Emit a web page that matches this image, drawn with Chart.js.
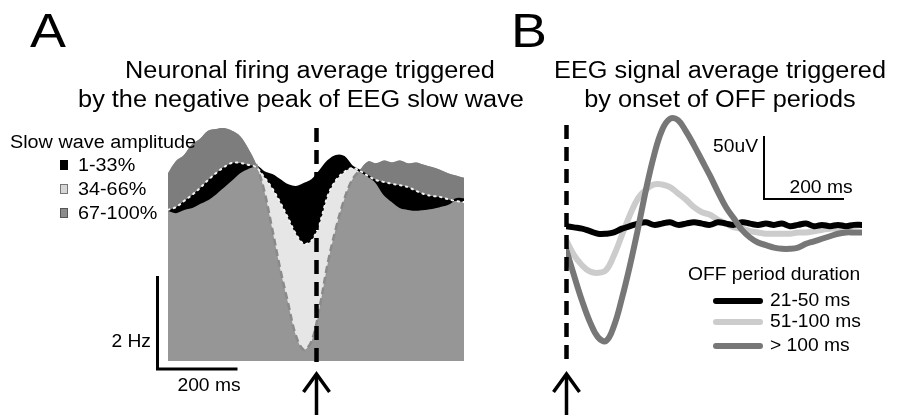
<!DOCTYPE html>
<html><head><meta charset="utf-8">
<script src="https://cdn.jsdelivr.net/npm/chart.js@4.4.1/dist/chart.umd.min.js"></script>
<style>
html,body{margin:0;padding:0;background:#fff;width:913px;height:415px;overflow:hidden;}
#wrap{position:relative;width:913px;height:415px;}
canvas{position:absolute;left:0;top:0;}
.t{position:absolute;font-family:"Liberation Sans",Arial,Helvetica,sans-serif;color:#000;white-space:nowrap;line-height:1;}
.sw{position:absolute;width:8px;height:10px;box-sizing:border-box;}
</style></head><body>
<div id="wrap">
<canvas id="cA" width="913" height="415"></canvas>
<canvas id="cB" width="913" height="415"></canvas>
</div>
<script>
// ---------- Panel A data: firing rate (Hz) vs time (ms) ----------
const timeA = [-370,-350,-330,-310,-290,-270,-250,-230,-210,-190,-170,-150,-130,-110,-90,-70,-50,-30,-10,10,30,50,70,90,110,130,150,170,190,210,230,250,270,290,310,330,350,370];
const amp67to100 = [4.04,4.30,4.43,4.66,4.78,4.95,4.99,5.01,4.95,4.84,4.58,4.24,3.68,2.86,2.00,1.25,0.54,0.24,0.45,1.20,2.13,2.86,3.46,3.89,4.11,4.29,4.25,4.31,4.27,4.31,4.25,4.27,4.22,4.17,4.11,4.04,3.99,3.94];
const amp34to66 = [3.25,3.31,3.44,3.57,3.72,3.89,4.04,4.17,4.26,4.26,4.22,4.17,3.96,3.72,3.42,3.08,2.73,2.52,2.60,2.99,3.57,3.89,4.06,4.15,4.09,3.98,3.89,3.85,3.81,3.78,3.74,3.66,3.59,3.55,3.53,3.48,3.44,3.42];
const amp1to33 = [3.25,3.20,3.27,3.31,3.40,3.48,3.61,3.76,3.91,4.06,4.15,4.19,4.06,4.00,3.89,3.78,3.74,3.81,3.89,4.09,4.30,4.41,4.39,4.19,4.09,3.98,3.85,3.59,3.44,3.31,3.27,3.25,3.27,3.29,3.33,3.38,3.48,3.48];
const legendA = ["1-33%","34-66%","67-100%"];

// ---------- Panel B data: EEG (uV) vs time from OFF onset (ms) ----------
const timeB = [0,20,40,60,80,100,120,140,160,180,200,220,240,260,280,300,320,340,360,380,400,420,440,460,480,500,520,540,560,580,600,620,640,660,680,700,720,740];
const off21to50 = [0,-1,-2,-4,-6,-6,-5,-2,0,2,3,1,2,3,1,2,3,2,1,3,2,1,3,2,1,2,1,2,0,1,2,0,1,0,1,0,1,1];
const off51to100 = [-11,-23,-31,-36,-37,-35,-23,-7,9,22,29,33,33,31,26,21,15,11,9,5,2,-1,-2,-4,-5,-6,-6,-6,-6,-5,-5,-4,-3,-2,-2,-1,0,1];
const offOver100 = [-18,-39,-59,-76,-88,-91,-79,-57,-31,-2,29,56,76,85,84,75,64,52,40,27,15,6,-3,-9,-13,-15,-17,-18,-18,-17,-14,-12,-10,-8,-6,-5,-5,-5];
const legendB = ["21-50 ms","51-100 ms","> 100 ms"];

const pts = (xs, ys) => xs.map((x,i)=>({x, y: ys[i]}));
const wrap = document.getElementById('wrap');
function txt(s,x,y,size,align){
  const d=document.createElement('div'); d.className='t'; d.textContent=s;
  d.style.fontSize=size+'px'; d.style.left=x+'px'; d.style.top=y+'px';
  const tx = align==='center'?'-50%':(align==='right'?'-100%':'0');
  d.style.transformOrigin = align==='center'?'50% 50%':(align==='right'?'100% 50%':'0 50%');
  d.style.transform='translate('+tx+',-50%) scaleX(1.1)';
  wrap.appendChild(d);
}

const DARK='#7d7d7d', MID='#969696', LIGHT='#e6e6e6';

const annA = {
  id:'annA',
  afterDraw(chart){
    const {ctx, scales:{x,y}} = chart;
    const x0 = Math.round(x.getPixelForValue(0))+0.5;
    ctx.save();
    ctx.strokeStyle='#000';
    ctx.lineWidth=4.5; ctx.setLineDash([14,8]);
    ctx.beginPath(); ctx.moveTo(x0,128); ctx.lineTo(x0,366); ctx.stroke();
    ctx.setLineDash([]);
    ctx.lineWidth=3.5;
    ctx.beginPath(); ctx.moveTo(x0,415); ctx.lineTo(x0,375); ctx.stroke();
    ctx.beginPath(); ctx.moveTo(x0-13,392); ctx.lineTo(x0,374); ctx.lineTo(x0+13,392); ctx.stroke();
    const w200 = x.getPixelForValue(200)-x.getPixelForValue(0);
    const h2 = y.getPixelForValue(0)-y.getPixelForValue(2);
    ctx.lineWidth=3; ctx.lineCap='butt';
    ctx.beginPath(); ctx.moveTo(157.5,369-h2); ctx.lineTo(157.5,369); ctx.lineTo(157.5+w200,369); ctx.stroke();
    ctx.restore();
  }
};

new Chart(document.getElementById('cA'), {
  type:'line',
  data:{datasets:[
    {data:pts(timeA,amp67to100), fill:'origin', backgroundColor:MID, borderWidth:0, pointRadius:0, tension:0.35, order:10},
    {data:pts(timeA,amp1to33), fill:'origin', backgroundColor:MID, borderWidth:0, pointRadius:0, tension:0.35, order:9},
    {data:pts(timeA,amp67to100), fill:{target:6, above:DARK, below:LIGHT}, borderWidth:0, pointRadius:0, tension:0.35, order:8},
    {data:pts(timeA,amp34to66), fill:{target:4, above:'#000', below:'#000'}, borderWidth:0, pointRadius:0, tension:0.35, order:7},
    {label:legendA[0], data:pts(timeA,amp1to33), fill:false, borderColor:'#000', borderWidth:2, pointRadius:0, tension:0.35, order:3},
    {label:legendA[2], data:pts(timeA,amp67to100), fill:false, borderColor:'#8a8a8a', borderWidth:2.5, borderDash:[7,4], pointRadius:0, tension:0.35, order:2,
      segment:{borderColor: c => (amp67to100[c.p0DataIndex] < amp34to66[c.p0DataIndex] || amp67to100[c.p1DataIndex] < amp34to66[c.p1DataIndex]) ? '#8a8a8a' : 'rgba(0,0,0,0)'}},
    {label:legendA[1], data:pts(timeA,amp34to66), fill:false, borderColor:'#f2f2f2', borderWidth:2, borderDash:[1.5,4.5], borderCapStyle:'round', pointRadius:0, tension:0.35, order:1}
  ]},
  options:{
    responsive:false, animation:false, events:[],
    layout:{padding:{left:168,right:449,top:115,bottom:54}},
    scales:{x:{type:'linear',min:-370,max:370,display:false}, y:{min:0,max:5.29,display:false}},
    plugins:{legend:{display:false}, tooltip:{enabled:false}}
  },
  plugins:[annA]
});

const annB = {
  id:'annB',
  afterDraw(chart){
    const {ctx, scales:{x,y}} = chart;
    const x0 = Math.round(x.getPixelForValue(0))+0.5;
    ctx.save();
    ctx.strokeStyle='#000';
    ctx.lineWidth=4.5; ctx.setLineDash([14,8]);
    ctx.beginPath(); ctx.moveTo(x0,125); ctx.lineTo(x0,366); ctx.stroke();
    ctx.setLineDash([]);
    ctx.lineWidth=3.5;
    ctx.beginPath(); ctx.moveTo(x0,415); ctx.lineTo(x0,375); ctx.stroke();
    ctx.beginPath(); ctx.moveTo(x0-13,392); ctx.lineTo(x0,374); ctx.lineTo(x0+13,392); ctx.stroke();
    const w200 = x.getPixelForValue(200)-x.getPixelForValue(0);
    const h50 = y.getPixelForValue(0)-y.getPixelForValue(50);
    ctx.lineWidth=2;
    ctx.beginPath(); ctx.moveTo(764,199-h50); ctx.lineTo(764,199); ctx.lineTo(764+w200,199); ctx.stroke();
    // legend line samples
    const ys=[301,322,346];
    chart.data.datasets.forEach((ds,i)=>{
      ctx.strokeStyle=ds.borderColor; ctx.lineWidth=6; ctx.lineCap='round';
      ctx.beginPath(); ctx.moveTo(716,ys[ds.legendIndex]); ctx.lineTo(760,ys[ds.legendIndex]); ctx.stroke();
    });
    ctx.restore();
  }
};

new Chart(document.getElementById('cB'), {
  type:'line',
  data:{datasets:[
    {label:legendB[2], legendIndex:2, data:pts(timeB,offOver100), borderColor:'#777777', borderWidth:6, pointRadius:0, tension:0.4, fill:false, order:1},
    {label:legendB[0], legendIndex:0, data:pts(timeB,off21to50), borderColor:'#000000', borderWidth:6, pointRadius:0, tension:0.4, fill:false, order:2},
    {label:legendB[1], legendIndex:1, data:pts(timeB,off51to100), borderColor:'#cccccc', borderWidth:6, pointRadius:0, tension:0.4, fill:false, order:3}
  ]},
  options:{
    responsive:false, animation:false, events:[],
    layout:{padding:{left:566,right:51,top:110,bottom:50}},
    scales:{x:{type:'linear',min:0,max:740,display:false}, y:{min:-110,max:92,display:false}},
    elements:{line:{borderCapStyle:'round', borderJoinStyle:'round'}},
    plugins:{legend:{display:false}, tooltip:{enabled:false}}
  },
  plugins:[annB]
});

// ---------- Text ----------
txt("A",48,30,49,'center');
txt("B",529,30,49,'center');
txt("Neuronal firing average triggered",310,70,23,'center');
txt("by the negative peak of EEG slow wave",301,99,23,'center');
txt("EEG signal average triggered",720,70,23,'center');
txt("by onset of OFF periods",720,99,23,'center');
txt("Slow wave amplitude",10,142,18,'left');
const swCols=[['#000','#000'],['#d6d6d6','#777'],['#8c8c8c','#555']];
legendA.forEach((s,i)=>{
  const yc=165+24*i;
  const d=document.createElement('div'); d.className='sw';
  d.style.left='60px'; d.style.top=(yc-5)+'px';
  d.style.background=swCols[i][0]; d.style.border='1px solid '+swCols[i][1];
  wrap.appendChild(d);
  txt(s,78,yc,18,'left');
});
txt("2 Hz",151,342,17.5,'right');
txt("200 ms",209,386,17.5,'center');
txt("50uV",758,147,17.5,'right');
txt("200 ms",821,188,17.5,'center');
txt("OFF period duration",688,275,17.5,'left');
legendB.forEach((s,i)=>txt(s,770,[301,322,346][i],17.5,'left'));
</script>
</body></html>
